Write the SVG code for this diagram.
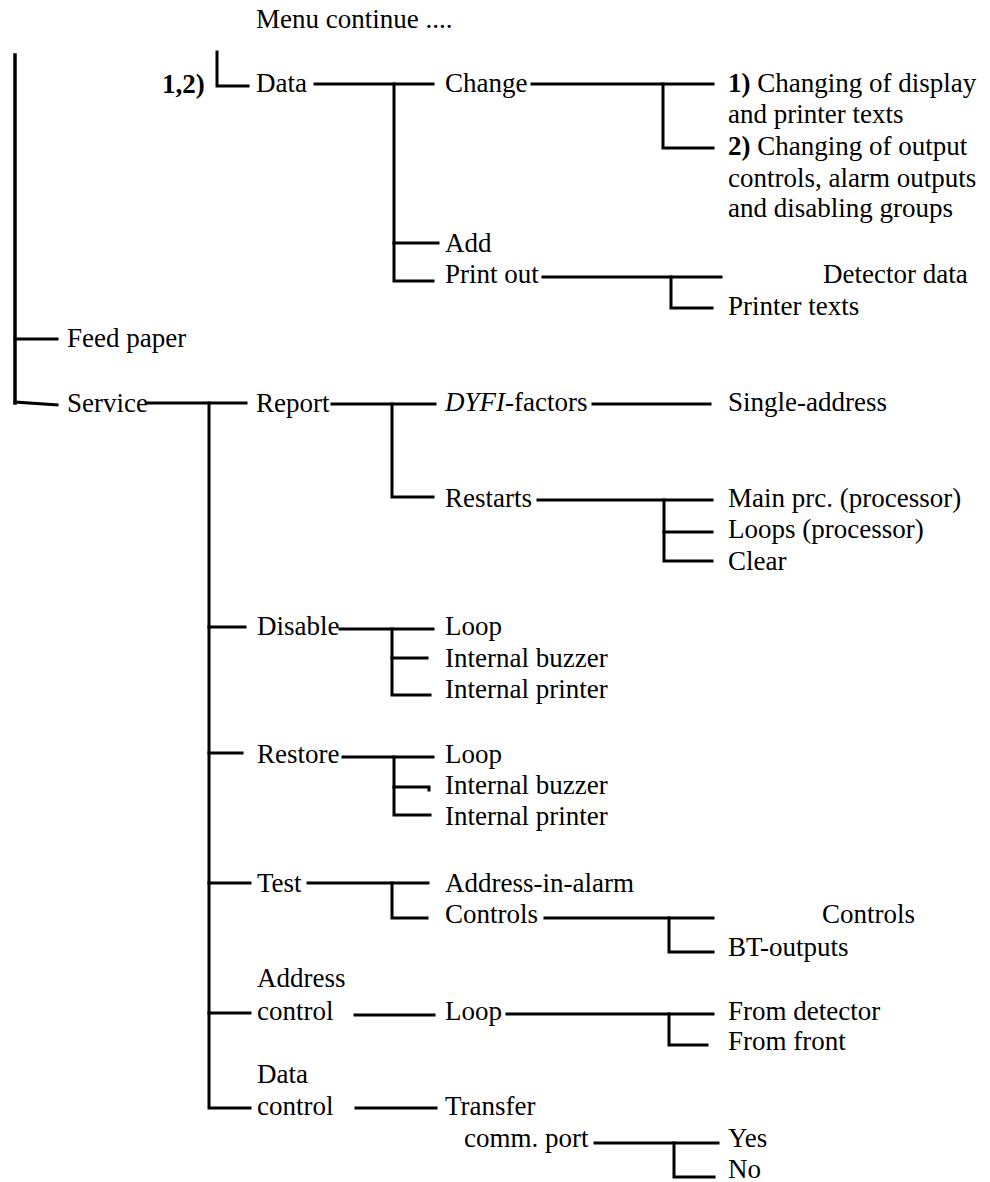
<svg xmlns="http://www.w3.org/2000/svg" width="990" height="1182" viewBox="0 0 990 1182" font-family="'Liberation Serif', 'DejaVu Serif', serif">
  <style>
    text { font-family: 'Liberation Serif', 'DejaVu Serif', serif; font-size: 27px; fill: #000; }
    .b { font-weight: bold; }
    .i { font-style: italic; }
    #connectors path { fill: none; stroke: #000; stroke-width: 3; stroke-linecap: square; stroke-linejoin: miter; }
    #connectors path.heavy { stroke-width: 3.5; }
  </style>
  <rect width="990" height="1182" fill="#fff"/>

  <g id="connectors">
    <!-- main menu spine -->
    <path class="heavy" d="M15,55 V403"/>
    <path d="M15,339 H57"/>
    <path d="M15,402 L57,405"/>
    <!-- Data branch -->
    <path d="M217,52 V86 H248"/>
    <path d="M315,84 H433"/>
    <path d="M394,84 V281 H433"/>
    <path d="M394,243 H438"/>
    <path d="M532,84 H713"/>
    <path d="M663,84 V148 H713"/>
    <path d="M543,277 H721"/>
    <path d="M671,277 V308 H712"/>
    <!-- Service branch -->
    <path d="M148,403 H246"/>
    <path d="M209,403 V1108 H250"/>
    <path d="M332,404 H435"/>
    <path d="M392,404 V497 H433"/>
    <path d="M593,404 H710"/>
    <path d="M538,500 H712"/>
    <path d="M664,500 V561 H712"/>
    <path d="M664,532 H712"/>
    <!-- Disable -->
    <path d="M209,627 H245"/>
    <path d="M340,629 H433"/>
    <path d="M392,629 V695 H430"/>
    <path d="M392,658 H427"/>
    <!-- Restore -->
    <path d="M209,753 H242"/>
    <path d="M343,757 H433"/>
    <path d="M394,757 V815 H430"/>
    <path d="M394,787 H429 V790"/>
    <!-- Test -->
    <path d="M209,883 H250"/>
    <path d="M308,883 H428"/>
    <path d="M392,883 V918 H427"/>
    <path d="M545,918 H713"/>
    <path d="M669,918 V952 H713"/>
    <!-- Address control -->
    <path d="M209,1013 H250"/>
    <path d="M355,1015 H434"/>
    <path d="M507,1014 H713"/>
    <path d="M669,1014 V1045 H707"/>
    <!-- Data control -->
    <path d="M356,1108 H436"/>
    <path d="M595,1143 H718"/>
    <path d="M674,1143 V1177 H714"/>
  </g>

  <g id="menu-continue"><text x="256" y="28">Menu continue ....</text></g>
  <g id="note-12"><text class="b" x="162" y="93">1,2)</text></g>
  <g id="data"><text x="256" y="92">Data</text></g>
  <g id="change"><text x="445" y="92">Change</text></g>
  <g id="change-1">
    <text x="728" y="92"><tspan class="b">1)</tspan> Changing of display</text>
    <text x="728" y="123">and printer texts</text>
  </g>
  <g id="change-2">
    <text x="728" y="155"><tspan class="b">2)</tspan> Changing of output</text>
    <text x="728" y="187">controls, alarm outputs</text>
    <text x="728" y="217">and disabling groups</text>
  </g>
  <g id="add"><text x="445" y="252">Add</text></g>
  <g id="print-out"><text x="445" y="283">Print out</text></g>
  <g id="detector-data"><text x="823" y="283">Detector data</text></g>
  <g id="printer-texts"><text x="728" y="315">Printer texts</text></g>
  <g id="feed-paper"><text x="67" y="347">Feed paper</text></g>
  <g id="service"><text x="67" y="412">Service</text></g>
  <g id="report"><text x="256" y="412">Report</text></g>
  <g id="dyfi"><text x="445" y="411"><tspan class="i">DYFI</tspan>-factors</text></g>
  <g id="single-address"><text x="728" y="411">Single-address</text></g>
  <g id="restarts"><text x="445" y="507">Restarts</text></g>
  <g id="main-prc"><text x="728" y="507">Main prc. (processor)</text></g>
  <g id="loops-prc"><text x="728" y="538">Loops (processor)</text></g>
  <g id="clear"><text x="728" y="570">Clear</text></g>
  <g id="disable"><text x="257" y="635">Disable</text></g>
  <g id="disable-loop"><text x="445" y="635">Loop</text></g>
  <g id="disable-buzzer"><text x="445" y="667">Internal buzzer</text></g>
  <g id="disable-printer"><text x="445" y="698">Internal printer</text></g>
  <g id="restore"><text x="257" y="763">Restore</text></g>
  <g id="restore-loop"><text x="445" y="763">Loop</text></g>
  <g id="restore-buzzer"><text x="445" y="794">Internal buzzer</text></g>
  <g id="restore-printer"><text x="445" y="825">Internal printer</text></g>
  <g id="test"><text x="257" y="892">Test</text></g>
  <g id="address-in-alarm"><text x="445" y="892">Address-in-alarm</text></g>
  <g id="test-controls"><text x="445" y="923">Controls</text></g>
  <g id="controls"><text x="822" y="923">Controls</text></g>
  <g id="bt-outputs"><text x="728" y="956">BT-outputs</text></g>
  <g id="address-control">
    <text x="257" y="987">Address</text>
    <text x="257" y="1020">control</text>
  </g>
  <g id="ac-loop"><text x="445" y="1020">Loop</text></g>
  <g id="from-detector"><text x="728" y="1020">From detector</text></g>
  <g id="from-front"><text x="728" y="1050">From front</text></g>
  <g id="data-control">
    <text x="257" y="1083">Data</text>
    <text x="257" y="1115">control</text>
  </g>
  <g id="transfer">
    <text x="445" y="1115">Transfer</text>
    <text x="464" y="1147">comm. port</text>
  </g>
  <g id="yes"><text x="728" y="1147">Yes</text></g>
  <g id="no"><text x="728" y="1178">No</text></g>
</svg>
